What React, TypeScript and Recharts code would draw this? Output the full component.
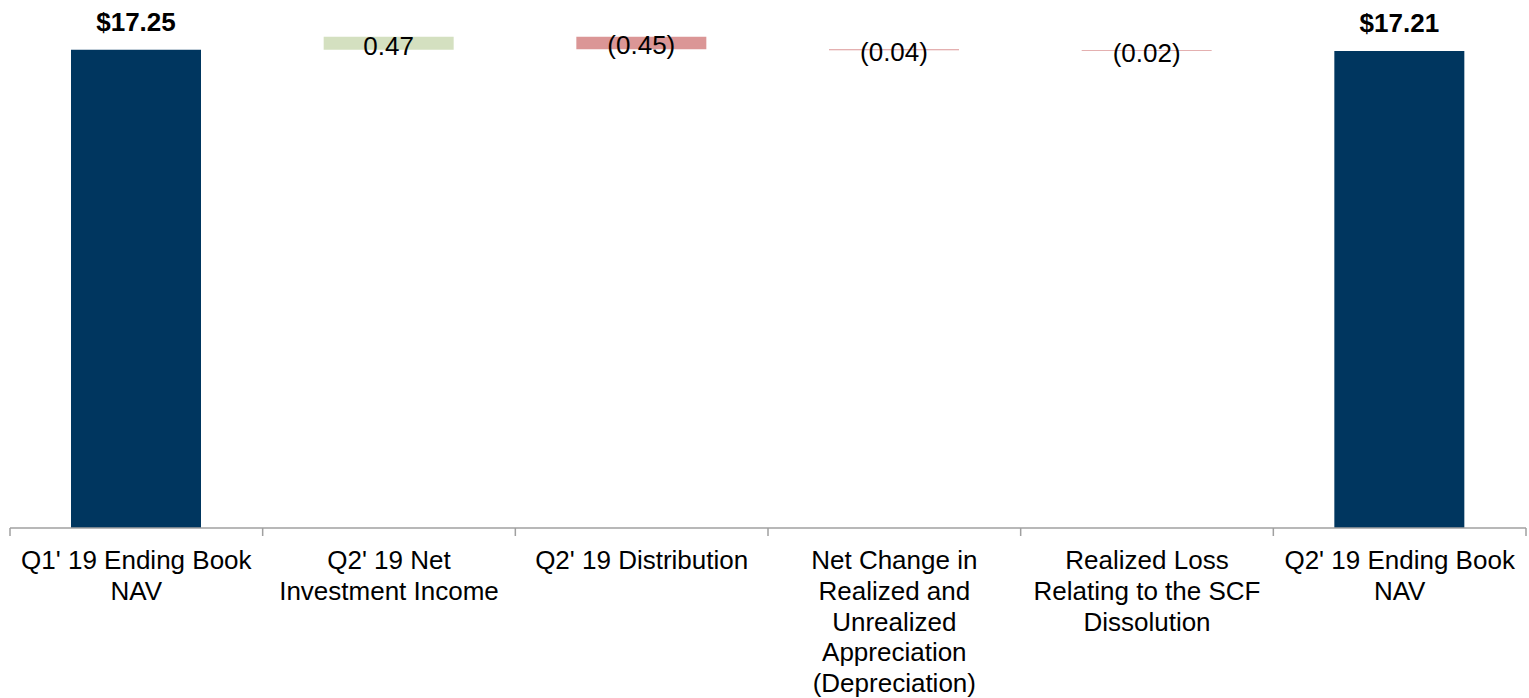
import React from "react";
import { BarChart, Bar, XAxis, YAxis, Cell, LabelList } from "recharts";

const categories = [
  "Q1' 19 Ending Book\nNAV",
  "Q2' 19 Net\nInvestment Income",
  "Q2' 19 Distribution",
  "Net Change in\nRealized and\nUnrealized\nAppreciation\n(Depreciation)",
  "Realized Loss\nRelating to the SCF\nDissolution",
  "Q2' 19 Ending Book\nNAV",
];
const startValue = 17.25;
const changes = [0.47, -0.45, -0.04, -0.02];
const endValue = 17.21;
const valueLabels = ["$17.25", "0.47", "(0.45)", "(0.04)", "(0.02)", "$17.21"];

const NAVY = "#00365f";
const GREEN = "#d4e0c0";
const RED = "#db9696";

type Row = { name: string; range: [number, number]; kind: "total" | "up" | "down" };

const rows: Row[] = (() => {
  const out: Row[] = [];
  out.push({ name: categories[0], range: [0, startValue], kind: "total" });
  let level = startValue;
  changes.forEach((c, i) => {
    const next = level + c;
    out.push({
      name: categories[i + 1],
      range: [Math.min(level, next), Math.max(level, next)],
      kind: c >= 0 ? "up" : "down",
    });
    level = next;
  });
  out.push({ name: categories[categories.length - 1], range: [0, endValue], kind: "total" });
  return out;
})();

const W = 1529;
const H = 698;
const M = { top: 29, right: 3, bottom: 20, left: 10 };
const BAND = (W - M.left - M.right) / categories.length;

const FONT = "'Liberation Sans', Arial, sans-serif";

const Tick = (props: any) => {
  const { x, y, payload, index } = props;
  const lines = String(payload.value).split("\n");
  const isLast = index === categories.length - 1;
  return (
    <g>
      <line x1={x - BAND / 2} x2={x - BAND / 2} y1={y} y2={y + 8} stroke="#a0a0a0" strokeWidth={1.5} />
      {isLast && (
        <line x1={x + BAND / 2} x2={x + BAND / 2} y1={y} y2={y + 8} stroke="#a0a0a0" strokeWidth={1.5} />
      )}
      <text x={x} y={y + 41} textAnchor="middle" fontFamily={FONT} fontSize={26} fill="#000">
        {lines.map((l, i) => (
          <tspan key={i} x={x} dy={i === 0 ? 0 : 30.75}>
            {l}
          </tspan>
        ))}
      </text>
    </g>
  );
};

const ValueLabel = (props: any) => {
  const { x, y, width, height, index } = props;
  const row = rows[index];
  const text = valueLabels[index];
  const cx = x + width / 2;
  if (row.kind === "total") {
    return (
      <text x={cx} y={y - 19} textAnchor="middle" fontFamily={FONT} fontWeight="bold" fontSize={26} fill="#000">
        {text}
      </text>
    );
  }
  const cy = y + height / 2 + 11.5;
  return (
    <text x={cx} y={cy} textAnchor="middle" fontFamily={FONT} fontSize={26} fill="#000">
      {text}
    </text>
  );
};

export default function App() {
  return (
    <div style={{ position: "absolute", left: 0, top: 0, background: "#fff" }}>
      <BarChart width={W} height={H} data={rows} margin={M}>
        <XAxis
          dataKey="name"
          interval={0}
          height={150}
          tickLine={false}
          tickSize={0}
          tickMargin={0}
          axisLine={{ stroke: "#a0a0a0", strokeWidth: 1.5 }}
          tick={<Tick />}
        />
        <YAxis hide domain={[0, 18]} allowDataOverflow />
        <Bar dataKey="range" barSize={130} isAnimationActive={false}>
          {rows.map((r, i) => (
            <Cell key={i} fill={r.kind === "total" ? NAVY : r.kind === "up" ? GREEN : RED} />
          ))}
          <LabelList dataKey="range" content={<ValueLabel />} />
        </Bar>
      </BarChart>
    </div>
  );
}
